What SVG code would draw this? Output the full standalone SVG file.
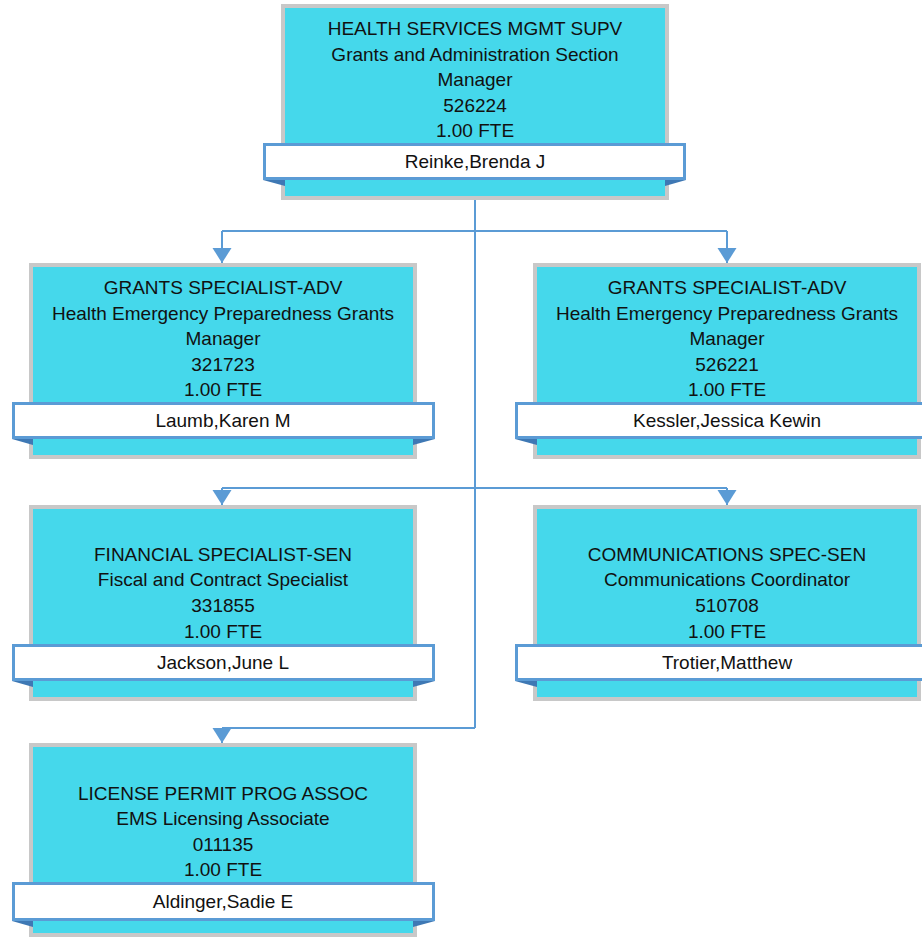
<svg xmlns="http://www.w3.org/2000/svg" width="922" height="937" viewBox="0 0 922 937">
<style>
.box{fill:#45D8EB;stroke:#C8C8C8;stroke-width:4}
.nm{fill:#FFFFFF;stroke:#5B9BD5;stroke-width:3}
.flap{fill:#3E78B4}
.t{font-family:"Liberation Sans",Arial,sans-serif;font-size:19px;fill:#111;text-anchor:middle}
.c{fill:none;stroke:#5B9BD5;stroke-width:2}
</style>
<defs>
<marker id="ad" markerUnits="userSpaceOnUse" markerWidth="15" markerHeight="20" refX="15" refY="10" orient="auto" viewBox="0 0 15 20">
<path d="M0,0.5 L0,19.5 L15,10 Z" fill="#5B9BD5"/>
</marker>
</defs>
<g id="connectors">
<path class="c" d="M475,200 V728"/>
<path class="c" d="M222,231 H727"/>
<path class="c" d="M222,231 V263" marker-end="url(#ad)"/>
<path class="c" d="M727,231 V263" marker-end="url(#ad)"/>
<path class="c" d="M222,488 H727"/>
<path class="c" d="M222,488 V505" marker-end="url(#ad)"/>
<path class="c" d="M727,488 V505" marker-end="url(#ad)"/>
<path class="c" d="M222,728 H475"/>
<path class="c" d="M222,728 V743" marker-end="url(#ad)"/>
</g>
<g id="n1">
<rect class="box" x="283" y="6" width="384" height="192"/>
<polygon class="flap" points="263,180 285,180 285,186"/>
<polygon class="flap" points="686,180 665,180 665,186"/>
<rect class="nm" x="264.5" y="144.5" width="420" height="34"/>
<text class="t" x="475" y="35">HEALTH SERVICES MGMT SUPV</text>
<text class="t" x="475" y="61">Grants and Administration Section</text>
<text class="t" x="475" y="86">Manager</text>
<text class="t" x="475" y="112">526224</text>
<text class="t" x="475" y="137">1.00 FTE</text>
<text class="t" x="475" y="168">Reinke,Brenda J</text>
</g>
<g id="n2">
<rect class="box" x="31" y="265" width="384" height="192"/>
<polygon class="flap" points="12,439 33,439 33,445"/>
<polygon class="flap" points="435,439 413,439 413,445"/>
<rect class="nm" x="13.5" y="403.5" width="420" height="34"/>
<text class="t" x="223" y="294">GRANTS SPECIALIST-ADV</text>
<text class="t" x="223" y="320">Health Emergency Preparedness Grants</text>
<text class="t" x="223" y="345">Manager</text>
<text class="t" x="223" y="371">321723</text>
<text class="t" x="223" y="396">1.00 FTE</text>
<text class="t" x="223" y="427">Laumb,Karen M</text>
</g>
<g id="n3">
<rect class="box" x="535" y="265" width="384" height="192"/>
<polygon class="flap" points="515,439 537,439 537,445"/>
<rect class="nm" x="516.5" y="403.5" width="420" height="34"/>
<text class="t" x="727" y="294">GRANTS SPECIALIST-ADV</text>
<text class="t" x="727" y="320">Health Emergency Preparedness Grants</text>
<text class="t" x="727" y="345">Manager</text>
<text class="t" x="727" y="371">526221</text>
<text class="t" x="727" y="396">1.00 FTE</text>
<text class="t" x="727" y="427">Kessler,Jessica Kewin</text>
</g>
<g id="n4">
<rect class="box" x="31" y="507" width="384" height="192"/>
<polygon class="flap" points="12,681 33,681 33,687"/>
<polygon class="flap" points="435,681 413,681 413,687"/>
<rect class="nm" x="13.5" y="645.5" width="420" height="34"/>
<text class="t" x="223" y="561">FINANCIAL SPECIALIST-SEN</text>
<text class="t" x="223" y="586">Fiscal and Contract Specialist</text>
<text class="t" x="223" y="612">331855</text>
<text class="t" x="223" y="638">1.00 FTE</text>
<text class="t" x="223" y="669">Jackson,June L</text>
</g>
<g id="n5">
<rect class="box" x="535" y="507" width="384" height="192"/>
<polygon class="flap" points="515,681 537,681 537,687"/>
<rect class="nm" x="516.5" y="645.5" width="420" height="34"/>
<text class="t" x="727" y="561">COMMUNICATIONS SPEC-SEN</text>
<text class="t" x="727" y="586">Communications Coordinator</text>
<text class="t" x="727" y="612">510708</text>
<text class="t" x="727" y="638">1.00 FTE</text>
<text class="t" x="727" y="669">Trotier,Matthew</text>
</g>
<g id="n6">
<rect class="box" x="31" y="745" width="384" height="190"/>
<polygon class="flap" points="12,921 33,921 33,927"/>
<polygon class="flap" points="435,921 413,921 413,927"/>
<rect class="nm" x="13.5" y="883.5" width="420" height="36"/>
<text class="t" x="223" y="800">LICENSE PERMIT PROG ASSOC</text>
<text class="t" x="223" y="825">EMS Licensing Associate</text>
<text class="t" x="223" y="851">011135</text>
<text class="t" x="223" y="876">1.00 FTE</text>
<text class="t" x="223" y="908">Aldinger,Sadie E</text>
</g>
</svg>
